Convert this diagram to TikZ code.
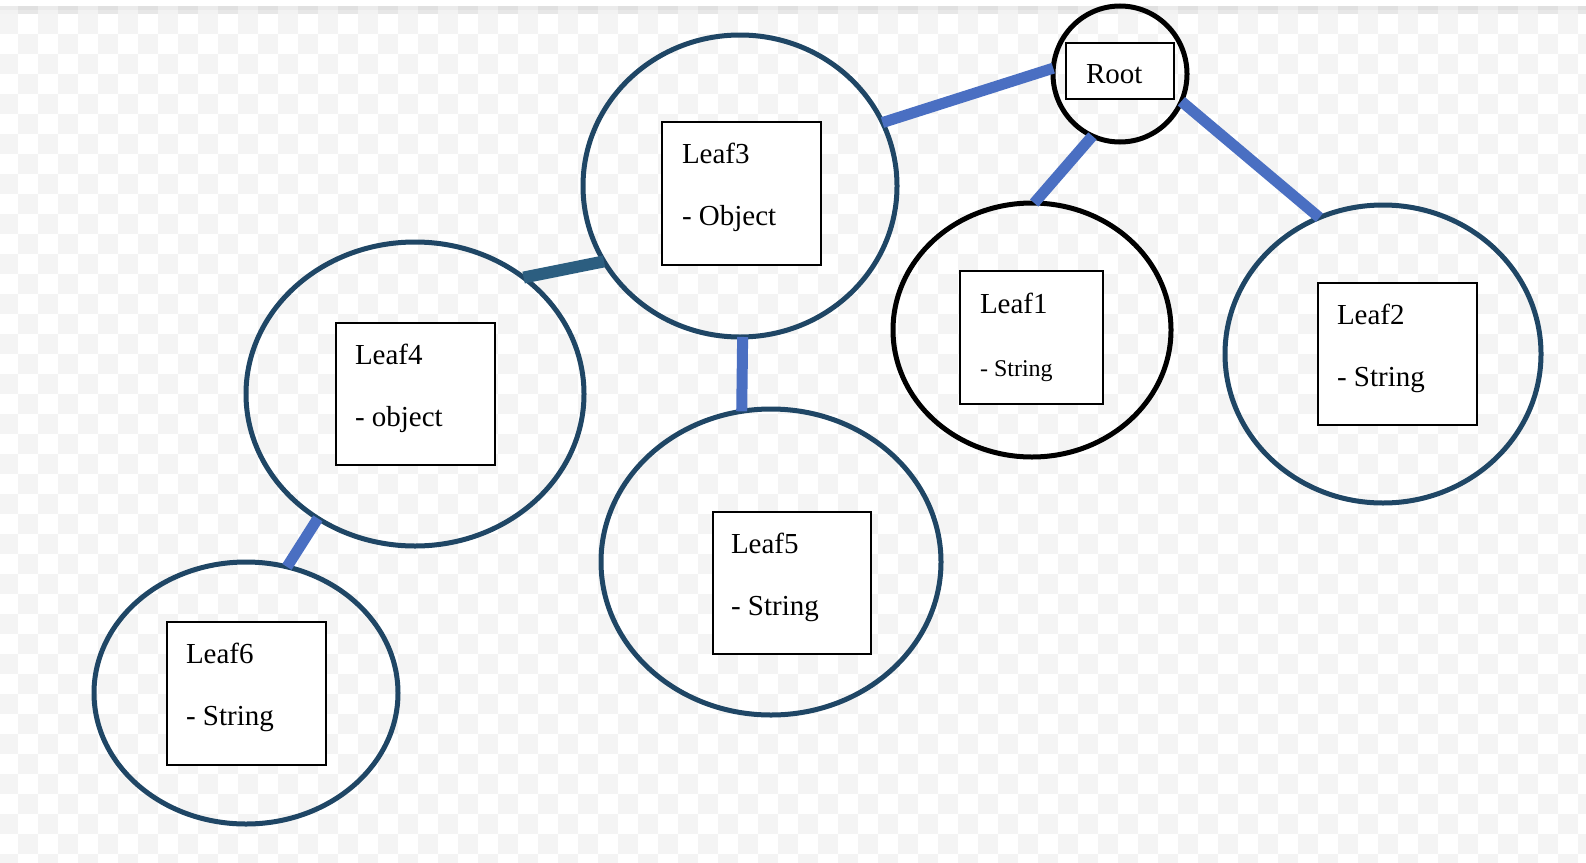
\documentclass[tikz,border=0pt]{standalone}
\usepackage{fontspec}
\setmainfont{Liberation Serif}
\usetikzlibrary{shapes.geometric,calc}
\definecolor{ringcol}{HTML}{1F4665}
\definecolor{linkcol}{HTML}{4A6FC2}
\definecolor{darklinkcol}{HTML}{2C5E80}
\definecolor{checkgray}{HTML}{F4F4F4}
\tikzset{
  ringnode/.style={ellipse, draw=ringcol, line width=5, inner sep=0, outer sep=0},
  blackring/.style={ringnode, draw=black},
  boxnode/.style={rectangle, draw=black, fill=white, line width=2.5, inner sep=0, outer sep=0, anchor=north west},
  linkline/.style={draw=linkcol, line width=11, line cap=butt},
  darkline/.style={draw=darklinkcol, line width=12, line cap=butt},
  lbl/.style={inner sep=0, outer sep=0, anchor=base west, font=\fontsize{29}{34}\selectfont},
  smalllbl/.style={lbl, font=\fontsize{24}{28}\selectfont}
}
\begin{document}
\begin{tikzpicture}[x=1pt,y=-1pt]
\useasboundingbox (0,0) rectangle (1586,862);
\fill[white] (0,0) rectangle (1586,862);
% checkerboard background
\foreach \i in {0,...,79}{
  \foreach \j in {-1,...,42}{
    \pgfmathtruncatemacro\myparity{mod(\i+\j+100,2)}
    \ifnum\myparity=0
      \fill[checkgray] (-2+20*\i,14+20*\j) rectangle (18+20*\i,34+20*\j);
    \fi
  }
}
\fill[white] (0,0) rectangle (1586,6);
\fill[black, opacity=0.08] (0,6) rectangle (1586,10);
\fill[black, opacity=0.05] (0,10) rectangle (1586,14);

% circles
\node[blackring, minimum width=134, minimum height=136] (root) at (1120,74) {};
\node[blackring, minimum width=278, minimum height=254] (leaf1) at (1032,330) {};
\node[ringnode, minimum width=316, minimum height=298] (leaf2) at (1383,354) {};
\node[ringnode, minimum width=314, minimum height=302] (leaf3) at (740,186) {};
\node[ringnode, minimum width=338, minimum height=304] (leaf4) at (415,394) {};
\node[ringnode, minimum width=340, minimum height=306] (leaf5) at (771,562) {};
\node[ringnode, minimum width=304, minimum height=262] (leaf6) at (246,693) {};

% connectors
\draw[linkline] (leaf3.24) -- (root.175);
\draw[linkline] (root.246) -- (leaf1.89);
\draw[linkline] (root.336) -- (leaf2.115);
\draw[darkline] (leaf3.209) -- (leaf4.47);
\draw[linkline] (leaf3.271) -- (leaf5.101);
\draw[linkline] (leaf4.232) -- (leaf6.72);

% boxes
\node[boxnode, minimum width=108, minimum height=56] (broot) at (1066,43) {};
\node[boxnode, minimum width=143, minimum height=133] (b1) at (960,271) {};
\node[boxnode, minimum width=159, minimum height=142] (b2) at (1318,283) {};
\node[boxnode, minimum width=159, minimum height=143] (b3) at (662,122) {};
\node[boxnode, minimum width=159, minimum height=142] (b4) at (336,323) {};
\node[boxnode, minimum width=158, minimum height=142] (b5) at (713,512) {};
\node[boxnode, minimum width=159, minimum height=143] (b6) at (167,622) {};

% texts
\node[lbl] (troot) at ($(broot.north west)+(20,40)$) {Root};
\node[lbl] (t1a) at ($(b1.north west)+(20,42)$) {Leaf1};
\node[smalllbl] (t1b) at ($(b1.north west)+(20,105)$) {- String};
\node[lbl] (t2a) at ($(b2.north west)+(19,41)$) {Leaf2};
\node[lbl] (t2b) at ($(b2.north west)+(19,103)$) {- String};
\node[lbl] (t3a) at ($(b3.north west)+(20,41)$) {Leaf3};
\node[lbl] (t3b) at ($(b3.north west)+(20,103)$) {- Object};
\node[lbl] (t4a) at ($(b4.north west)+(19,41)$) {Leaf4};
\node[lbl] (t4b) at ($(b4.north west)+(19,103)$) {- object};
\node[lbl] (t5a) at ($(b5.north west)+(18,41)$) {Leaf5};
\node[lbl] (t5b) at ($(b5.north west)+(18,103)$) {- String};
\node[lbl] (t6a) at ($(b6.north west)+(19,41)$) {Leaf6};
\node[lbl] (t6b) at ($(b6.north west)+(19,103)$) {- String};
\end{tikzpicture}
\end{document}
